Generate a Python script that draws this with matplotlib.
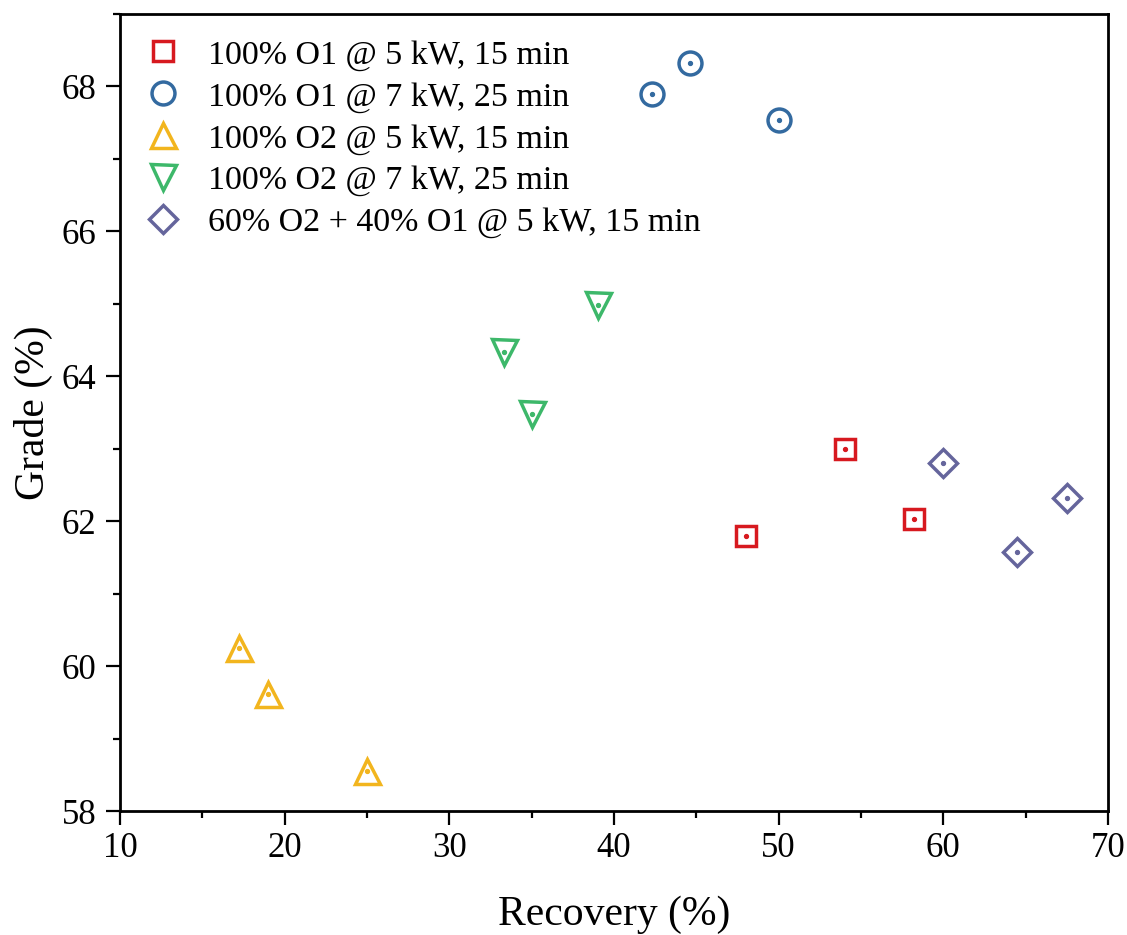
import matplotlib
matplotlib.use("Agg")
import matplotlib.pyplot as plt
from matplotlib.ticker import MultipleLocator

plt.rcParams['font.family'] = ['Liberation Serif', 'DejaVu Serif']

# Recovery / grade pairs for each feed condition
o1_5kw_rec = [48.0, 54.0, 58.2]
o1_5kw_grade = [61.79, 63.0, 62.03]
o1_7kw_rec = [42.3, 44.6, 50.0]
o1_7kw_grade = [67.89, 68.32, 67.54]
o2_5kw_rec = [17.2, 19.0, 25.0]
o2_5kw_grade = [60.25, 59.61, 58.55]
o2_7kw_rec = [33.3, 35.0, 39.0]
o2_7kw_grade = [64.33, 63.48, 64.99]
mix_rec = [60.0, 64.5, 67.5]
mix_grade = [62.8, 61.57, 62.32]

labels = ['100% O1 @ 5 kW, 15 min', '100% O1 @ 7 kW, 25 min',
          '100% O2 @ 5 kW, 15 min', '100% O2 @ 7 kW, 25 min',
          '60% O2 + 40% O1 @ 5 kW, 15 min']

series = [
    (o1_5kw_rec, o1_5kw_grade, 's', '#D7191F', 15),
    (o1_7kw_rec, o1_7kw_grade, 'o', '#336AA0', 16.5),
    (o2_5kw_rec, o2_5kw_grade, '^', '#F2B51E', 18),
    (o2_7kw_rec, o2_7kw_grade, 'v', '#3DB86A', 18),
    (mix_rec, mix_grade, 'D', '#65659C', 14.5),
]

fig = plt.figure(figsize=(11.27, 9.35), dpi=100)
ax = fig.add_axes([120 / 1127, 1 - 811 / 935, 988 / 1127, 797 / 935])

for (x, y, m, c, ms), lab in zip(series, labels):
    ax.plot(x, y, linestyle='none', marker=m, markersize=ms, markerfacecolor='none',
            markeredgecolor=c, markeredgewidth=2.5, label=lab)
    # small centre dot inside each hollow marker
    ax.plot(x, y, linestyle='none', marker='o', markersize=2.8, color=c)

ax.set_xlim(10, 70)
ax.set_ylim(58, 69)
ax.xaxis.set_major_locator(MultipleLocator(10))
ax.xaxis.set_minor_locator(MultipleLocator(5))
ax.yaxis.set_major_locator(MultipleLocator(2))
ax.yaxis.set_minor_locator(MultipleLocator(1))
ax.tick_params(which='both', direction='out', width=1.6, labelsize=25)
ax.tick_params(axis='x', pad=5)
ax.tick_params(axis='y', pad=7)
ax.tick_params(which='major', length=10)
ax.tick_params(which='minor', length=5)
for s in ax.spines.values():
    s.set_linewidth(2)

ax.set_xlabel('Recovery (%)', fontsize=30, labelpad=22)
ax.set_ylabel('Grade (%)', fontsize=30, labelpad=6)

ax.legend(loc='upper left', frameon=False, fontsize=24.5, handletextpad=0.85,
          labelspacing=0.32, borderaxespad=0.5, handlelength=1.0,
          borderpad=0.25, bbox_to_anchor=(0.0, 1.0))

fig.savefig('out.png', dpi=100)
